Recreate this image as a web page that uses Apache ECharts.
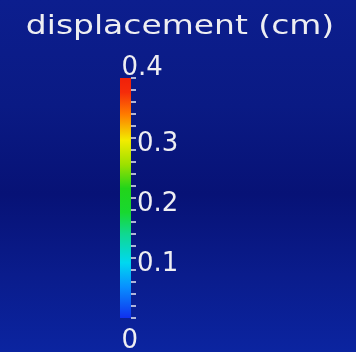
<!DOCTYPE html>
<html>
<head>
<meta charset="utf-8">
<script src="https://cdn.jsdelivr.net/npm/echarts@6/dist/echarts.min.js"></script>
<style>
html,body{margin:0;padding:0;background:#0a1a85;}
#chart{width:356px;height:352px;}
</style>
</head>
<body>
<div id="chart"></div>
<script>
// ---- data ----
const titleText = 'displacement (cm)';
const categories = ['displacement'];
const barValues = [0.4];
const rangeMin = 0;
const rangeMax = 0.4;
const majorStep = 0.1;
const endLabelValues = [0, 0.4];

const chart = echarts.init(document.getElementById('chart'));

const jet = new echarts.graphic.LinearGradient(0, 0, 0, 1, [
  { offset: 0.0, color: '#f0200a' },
  { offset: 0.06, color: '#f52c0a' },
  { offset: 0.15, color: '#ff7a00' },
  { offset: 0.26, color: '#f2ec00' },
  { offset: 0.36, color: '#9ee000' },
  { offset: 0.46, color: '#22d41a' },
  { offset: 0.56, color: '#18d830' },
  { offset: 0.65, color: '#10d890' },
  { offset: 0.77, color: '#00d8f0' },
  { offset: 0.87, color: '#0890ff' },
  { offset: 1.0, color: '#1030ee' }
]);

const bg = new echarts.graphic.LinearGradient(0, 0, 0, 1, [
  { offset: 0.0, color: '#0c1e8e' },
  { offset: 0.3, color: '#0a1a84' },
  { offset: 0.55, color: '#071276' },
  { offset: 0.78, color: '#0a1c8c' },
  { offset: 1.0, color: '#0b24a0' }
]);

const labelFont = 'DejaVu Sans';
const txt = '#eeeef2';

chart.setOption({
  backgroundColor: bg,
  animation: false,
  graphic: [{
    type: 'text',
    x: 180,
    y: 27,
    scaleX: 1.22,
    style: {
      text: titleText,
      font: '27px "DejaVu Sans"',
      fill: txt,
      align: 'center',
      verticalAlign: 'middle'
    }
  }],
  grid: { left: 120, width: 11, top: 78, bottom: 34 },
  xAxis: { type: 'category', data: categories, show: false },
  yAxis: {
    type: 'value',
    position: 'right',
    min: rangeMin,
    max: rangeMax,
    interval: majorStep,
    splitLine: { show: false },
    axisLine: { show: false },
    axisTick: { show: true, length: 5, lineStyle: { color: '#e8e8f0', width: 1.5 } },
    minorTick: { show: true, splitNumber: 5, length: 5, lineStyle: { color: '#e8e8f0', width: 1.5 } },
    axisLabel: {
      showMinLabel: false,
      showMaxLabel: false,
      margin: 6,
      color: txt,
      fontFamily: labelFont,
      fontSize: 26,
      verticalAlign: 'top',
      lineHeight: 13,
      formatter: v => v.toFixed(1)
    }
  },
  series: [
    {
      type: 'bar',
      data: barValues,
      barWidth: '100%',
      itemStyle: { color: jet },
      silent: true
    },
    {
      type: 'scatter',
      symbolSize: 0,
      silent: true,
      itemStyle: { opacity: 1 },
      data: endLabelValues.map(v => ({
        value: [categories[0], v],
        label: {
          show: true,
          position: v === rangeMax ? 'top' : 'bottom',
          distance: v === rangeMax ? -3 : 10,
          align: 'left',
          offset: [-4, 0],
          color: txt,
          opacity: 1,
          fontFamily: labelFont,
          fontSize: 26,
          formatter: p => String(p.value[1])
        }
      }))
    }
  ]
});
</script>
</body>
</html>
